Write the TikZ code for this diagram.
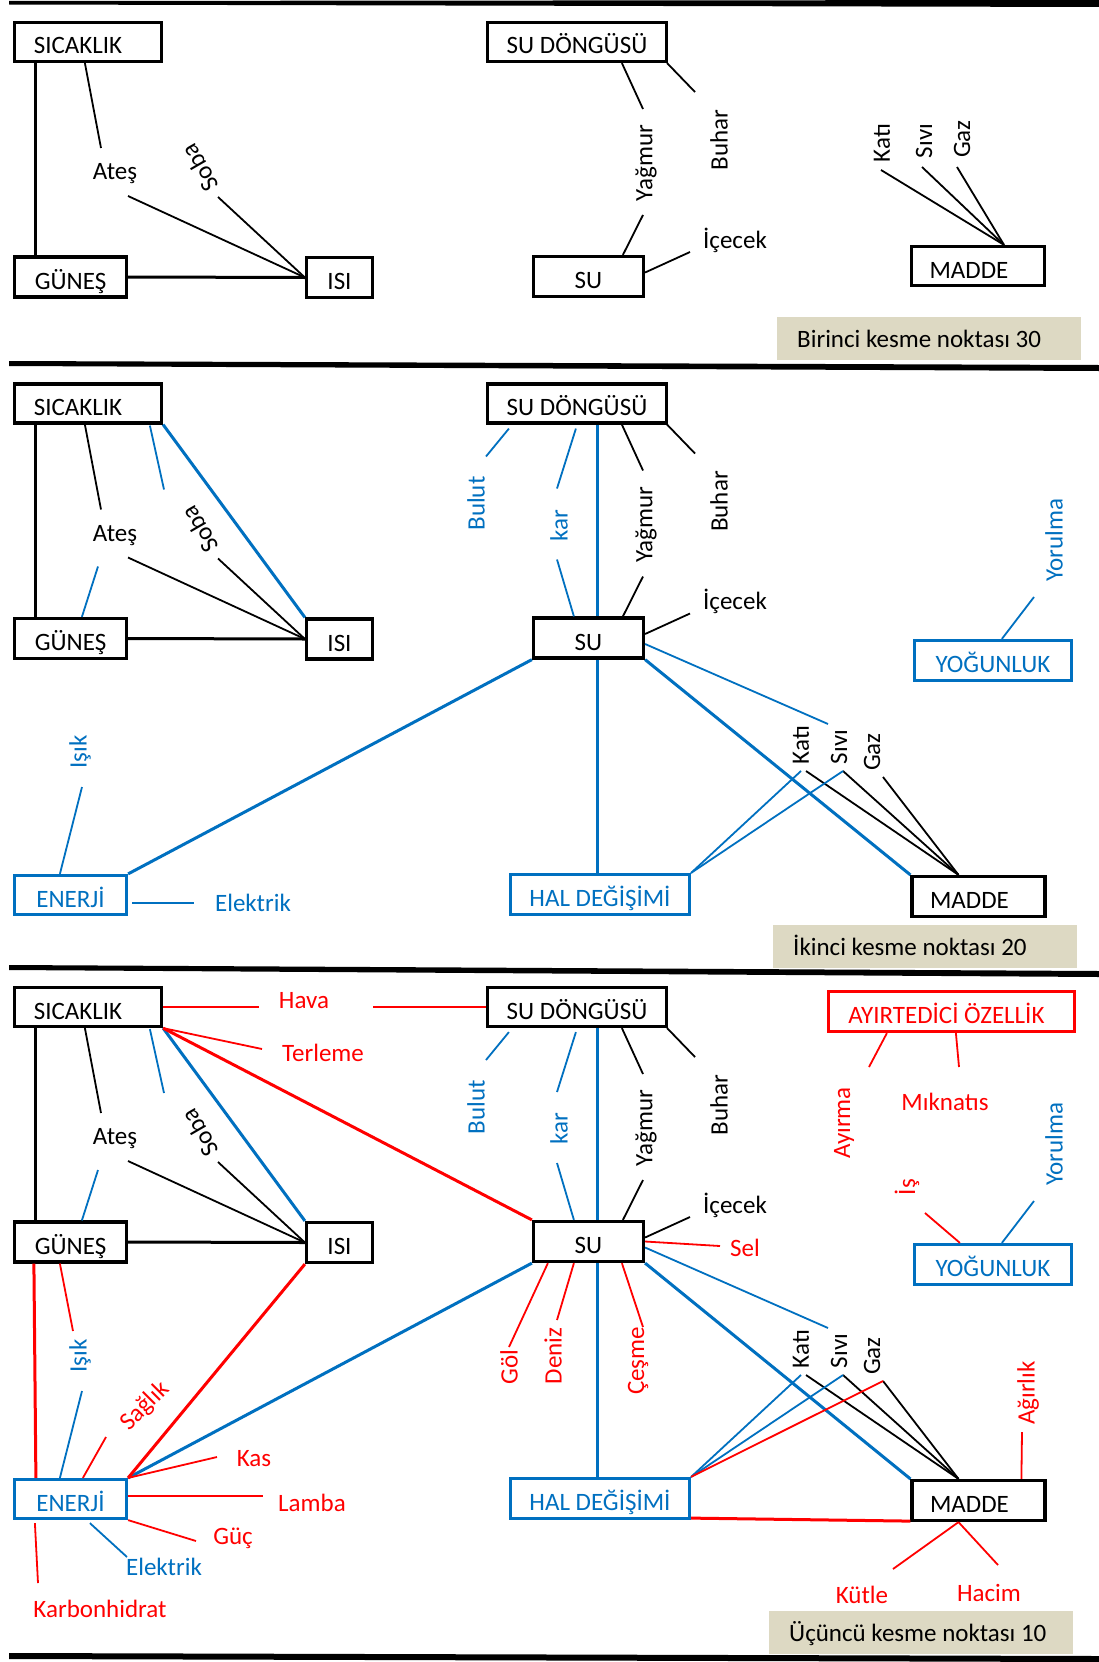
\documentclass[tikz,border=0pt]{standalone}
\usepackage{fontspec}
\setmainfont{Carlito}
\usetikzlibrary{calc}
\definecolor{cblue}{RGB}{0,112,192}
\definecolor{cred}{RGB}{255,0,0}
\definecolor{cbeige}{RGB}{221,217,195}
\tikzset{
  fnt/.style={font=\fontsize{25}{29}\selectfont},
  boxn/.style={fnt, draw, rectangle, line width=3.2pt, inner sep=0pt, text height=24pt, text depth=0pt},
  kbox/.style={boxn, draw=black, text=black},
  bbox/.style={boxn, draw=cblue, text=cblue},
  rbox/.style={boxn, draw=cred, text=cred},
  lbl/.style={fnt, inner sep=0pt},
  kl/.style={lbl, text=black},
  bl/.style={lbl, text=cblue},
  rl/.style={lbl, text=cred},
  kthin/.style={line width=1.8pt, draw=black},
  kthick/.style={line width=3pt, draw=black},
  bthin/.style={line width=1.8pt, draw=cblue},
  bthick/.style={line width=3pt, draw=cblue},
  rthin/.style={line width=1.8pt, draw=cred},
  rthick/.style={line width=3pt, draw=cred},
  beige/.style={fnt, fill=cbeige, anchor=north west, inner xsep=20pt, inner ysep=0pt, minimum height=43pt, text height=17pt, text depth=0pt}
}
\newcommand\BeigeText[1]{\makebox[264pt][l]{#1}}
% core of each upper section (section-1 coordinates)
\newcommand\DrawCore[1]{%
\node[kbox, minimum width=147pt, minimum height=39pt] (#1sic) at (88,42) {SICAKLIK\kern20pt};
\node[kbox, minimum width=112pt, minimum height=40pt] (#1gun) at (70.5,277) {GÜNEŞ};
\node[kbox, minimum width=66pt, minimum height=40pt] (#1isi) at (339.5,277.5) {ISI};
\node[kbox, minimum width=179pt, minimum height=39pt] (#1sud) at (577,42) {SU DÖNGÜSÜ};
\node[kbox, minimum width=110pt, minimum height=40pt] (#1su) at (588.5,276.5) {SU};
\node[kl] (#1ates) at (115,174) {Ateş};
\node[kl, rotate=120] (#1soba) at (200,168) {Soba};
\node[kl, rotate=90] (#1yag) at (646,163) {Yağmur};
\node[kl, rotate=90] (#1buh) at (719,140) {Buhar};
\node[kl] (#1ice) at (735,240) {İçecek};
\draw[kthick] ($(#1sic.south west)+(23,0)$) -- ($(#1gun.north west)+(23,0)$);
\draw[kthick] (#1gun.east) -- (#1isi.west);
\draw[kthin] ($(#1sic.south west)+(72,0)$) -- (101,148) coordinate (#1atesT);
\draw[kthin] (128,196) coordinate (#1atesB) -- (#1isi.west);
\draw[kthin] (218,197) coordinate (#1sobaB) -- (#1isi.west);
\draw[kthin] ($(#1sud.south west)+(136,0)$) -- (643,109) coordinate (#1yagT);
\draw[kthin] ($(#1sud.south east)+(-1,0)$) -- (695,92) coordinate (#1buhT);
\draw[kthin] (643,215) coordinate (#1yagB) -- ($(#1su.north west)+(91,0)$);
\draw[kthin] ($(#1su.east)+(0,-4)$) -- (690,252) coordinate (#1iceL);
}
\newcommand\DrawBlueUpper[1]{%
\draw[bthin] ($(#1sic.south west)+(137,1)$) -- (164,128) coordinate (#1sobaT);
\draw[bthick] (#1sic.south east) -- (#1isi.north west);
\draw[bthin] (98,205) coordinate (#1atesG) -- ($(#1gun.north west)+(69,0)$);
\node[bl, rotate=90] (#1bul) at (476,142) {Bulut};
\draw[bthin] ($(#1sud.south west)+(23,4)$) -- (486,95) coordinate (#1bulT);
\node[bl, rotate=90] (#1kar) at (559,164) {kar};
\draw[bthin] ($(#1sud.south west)+(90,4)$) -- (557,127) coordinate (#1karT);
\draw[bthin] (557,198) coordinate (#1karB) -- ($(#1su.north west)+(42,0)$);
\draw[bthick] ($(#1sud.south west)+(112,0)$) -- ($(#1su.north west)+(66,0)$);
}
% lower part (section-2 coordinates)
\newcommand\DrawLower[2]{%
\node[bbox, minimum width=112pt, minimum height=39pt] (#1ene) at (70.5,895) {ENERJİ};
\node[bbox, minimum width=179pt, minimum height=40pt] (#1hal) at (600,894.5) {HAL DEĞİŞİMİ};
\node[kbox, minimum width=133pt, minimum height=40pt] (#1mad) at (978.5,896.5) {MADDE\kern18pt};
\node[bbox, minimum width=157pt, minimum height=40pt] (#1yog) at (993,660.5) {YOĞUNLUK};
\node[bl, rotate=90] (#1yor) at (1054,540) {Yorulma};
\draw[bthin] (1034,597) coordinate (#1yorB) -- ($(#1yog.north west)+(89,0)$);
\node[bl, rotate=90] (#1isik) at (80,752) {Işık};
\draw[bthin] (82,787) coordinate (#1isikB) -- ($(#1ene.north west)+(47,0)$);
\draw[bthick] (#1ene.north east) -- (#2su.south west);
\node[kl, rotate=90] (#1kati) at (801,745) {Katı};
\node[kl, rotate=90] (#1sivi) at (839,747) {Sıvı};
\node[kl, rotate=90] (#1gaz) at (872,752) {Gaz};
\coordinate (#1conv) at ($(#1mad.north)+(-20,0)$);
\draw[kthin] (806,771) coordinate (#1katiB) -- (#1conv);
\draw[kthin] (843,771) coordinate (#1siviB) -- (#1conv);
\draw[kthin] (883,777) coordinate (#1gazB) -- (#1conv);
\draw[bthin] (801,771) coordinate (#1katiH) -- (#1hal.north east);
\draw[bthin] (#1siviB) -- (#1hal.north east);
\draw[bthick] (#2su.south east) -- (#1mad.north west);
\draw[bthick] ($(#2su.south west)+(66,0)$) -- ($(#1hal.north west)+(89,0)$);
\draw[bthin] ($(#2su.east)+(0,6)$) -- (828,724) coordinate (#1siviT);
}
\begin{document}
\begin{tikzpicture}[x=1pt,y=-1pt]
\useasboundingbox (0,0) rectangle (1099,1662);
\fill[white] (0,0) rectangle (1099,1662);
% separator lines
\fill[black] (9,1) -- (1099,0) -- (1099,7) -- (9,4.5) -- cycle;
\fill[black] (9,361) -- (1099,365) -- (1099,371) -- (9,366) -- cycle;
\fill[black] (9,965) -- (1099,971) -- (1099,977) -- (9,970) -- cycle;
\fill[black] (9,1653) -- (1099,1656) -- (1099,1662) -- (9,1659) -- cycle;

% ===== Section 1 =====
\DrawCore{a}
\node[kbox, minimum width=133pt, minimum height=39pt] (amad) at (978,266) {MADDE\kern18pt};
\node[kl, rotate=90] (akati) at (882,143) {Katı};
\node[kl, rotate=90] (asivi) at (924,141) {Sıvı};
\node[kl, rotate=90] (agaz) at (962,139) {Gaz};
\coordinate (aconv) at ($(amad.north)+(26,0)$);
\draw[kthin] (881,170) coordinate (akatiB) -- (aconv);
\draw[kthin] (922,167) coordinate (asiviB) -- (aconv);
\draw[kthin] (957,167) coordinate (agazB) -- (aconv);
\node[beige] (abeige) at (777,317) {\BeigeText{Birinci kesme noktası 30}};

% ===== Section 2 =====
\begin{scope}[shift={(0,361.5)}]
\DrawCore{b}
\DrawBlueUpper{b}
\end{scope}
\DrawLower{b}{b}
\draw[bthin] ($(bene.east)+(4,8)$) -- (194,903) coordinate (belekL);
\node[bl] (belek) at (253,903) {Elektrik};
\node[beige] (bbeige) at (773,925) {\BeigeText{İkinci kesme noktası 20}};

% ===== Section 3 =====
\begin{scope}[shift={(0,965)}]
\DrawCore{c}
\DrawBlueUpper{c}
\end{scope}
\begin{scope}[shift={(0,604)}]
\DrawLower{c}{c}
\end{scope}
\node[rbox, minimum width=246pt, minimum height=40pt] (cayirt) at (951.5,1011.5) {AYIRTEDİCİ ÖZELLİK\kern10pt};
\node[rl, rotate=90] (cayirma) at (844,1123) {Ayırma};
\draw[rthin] ($(cayirt.south west)+(60,0)$) -- (869,1067) coordinate (cayirmaT);
\node[rl] (cmik) at (945,1102) {Mıknatıs};
\draw[rthin] ($(cayirt.south west)+(129,0)$) -- (959,1067) coordinate (cmikT);
\node[rl, rotate=90] (cis) at (907,1187) {İş};
\draw[rthin] (925,1213) coordinate (cisB) -- ($(cyog.north west)+(47,0)$);
\node[rl] (chava) at (304,1001) {Hava};
\draw[rthin] (csic.east) -- (259,1007) coordinate (chavaL);
\draw[rthin] (373,1007) coordinate (chavaR) -- (csud.west);
\node[rl] (cterl) at (323,1053) {Terleme};
\draw[rthin] (csic.south east) -- (262,1049) coordinate (cterlL);
\draw[rthick] (csic.south east) -- (csu.north west);
\draw[rthick] ($(cgun.south west)+(21,0)$) -- ($(cene.north west)+(23,0)$);
\draw[rthin] ($(cgun.south west)+(47,0)$) -- (73,1331) coordinate (cisikT);
\node[rl, rotate=45] (csaglik) at (145,1406) {Sağlık};
\draw[rthin] (106,1437) coordinate (csaglikB) -- ($(cene.north west)+(70,0)$);
\draw[rthick] (cisi.south west) -- (cene.north east);
\node[rl] (ckas) at (254,1459) {Kas};
\draw[rthin] (cene.north east) -- (217,1457) coordinate (ckasL);
\node[rl] (clamba) at (312,1503) {Lamba};
\draw[rthin] ($(cene.east)+(0,-3)$) -- (263,1496) coordinate (clambaL);
\node[rl] (cguc) at (233,1538) {Güç};
\draw[rthin] (cene.south east) -- (196,1541) coordinate (cgucL);
\node[bl] (celek) at (164,1567) {Elektrik};
\draw[bthin] ($(cene.south west)+(77,3)$) -- (127,1557) coordinate (celekL);
\node[rl] (ckarb) at (100,1609) {Karbonhidrat};
\draw[rthin] ($(cene.south west)+(22,3)$) -- (38,1583) coordinate (ckarbT);
\node[rl, rotate=90] (cgol) at (509,1367) {Göl};
\draw[rthin] ($(csu.south west)+(16,0)$) -- (509,1347) coordinate (cgolT);
\node[rl, rotate=90] (cdeniz) at (553,1356) {Deniz};
\draw[rthin] ($(csu.south west)+(42,0)$) -- (557,1320) coordinate (cdenizT);
\node[rl, rotate=90] (ccesme) at (638,1361) {Çeşme};
\draw[rthin] ($(csu.south west)+(90,0)$) -- (643,1327) coordinate (ccesmeT);
\node[rl] (csel) at (745,1248) {Sel};
\draw[rthin] (csu.east) -- (720,1246) coordinate (cselL);
\draw[rthin] (cgazB) -- (chal.north east);
\draw[rthick] ($(chal.south east)+(0,-2)$) -- ($(cmad.south west)+(0,-1)$);
\node[rl, rotate=90] (cagir) at (1028,1393) {Ağırlık};
\draw[rthin] ($(cmad.north west)+(111,0)$) -- (1022,1432) coordinate (cagirB);
\node[rl] (ckutle) at (862,1595) {Kütle};
\draw[rthin] ($(cmad.south)+(-20,0)$) -- (893,1569) coordinate (ckutleT);
\node[rl] (chacim) at (989,1593) {Hacim};
\draw[rthin] ($(cmad.south)+(-20,0)$) -- (998,1565) coordinate (chacimT);
\node[beige] (cbeigeb) at (769,1611) {\BeigeText{Üçüncü kesme noktası 10}};
\end{tikzpicture}
\end{document}
